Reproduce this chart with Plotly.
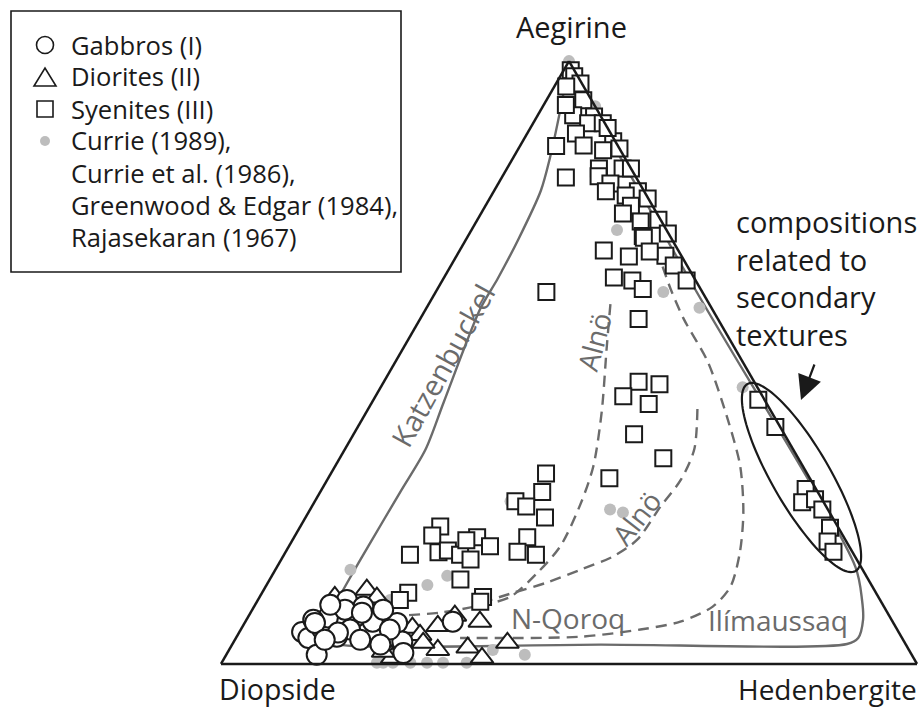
import numpy as np
import plotly.graph_objects as go

W, H = 919, 710
def X(px): return px / W
def Y(py): return 1 - py / H

# ---------------- data (Aegirine, Diopside, Hedenbergite in %) ----------------
gab_ae = [5.3, 4.3, 1.5, 5.7, 7.0, 10.6, 7.7, 7.3, 7.8, 9.5, 7.0, 5.7, 4.5, 6.8, 3.7, 1.8, 9.0, 9.0, 8.5, 6.8, 5.2, 7.0, 4.0, 5.7, 4.0, 3.2, 9.8]
gab_di = [85.7, 85.3, 85.5, 82.6, 79.8, 76.6, 80.8, 83.1, 76.8, 74.8, 74.7, 78.6, 81.1, 71.3, 72.1, 72.9, 72.2, 77.7, 75.5, 83.1, 80.6, 63.2, 83.1, 72.9, 78.0, 75.5, 79.4]
gab_hd = [9.0, 10.4, 13.0, 11.7, 13.2, 12.8, 11.5, 9.6, 15.4, 15.7, 18.3, 15.7, 14.4, 21.9, 24.2, 25.3, 18.8, 13.3, 16.0, 10.1, 14.2, 29.8, 12.9, 21.4, 18.0, 21.3, 10.8]

dio_ae = [11.1, 12.3, 11.0, 6.0, 4.8, 6.3, 8.0, 7.0, 3.5, 2.7, 1.0, 2.3, 2.3, 1.0, 3.5, 2.0]
dio_di = [78.1, 72.9, 72.1, 69.5, 69.0, 65.7, 62.4, 59.3, 57.1, 63.2, 62.0, 67.7, 75.0, 74.9, 69.2, 75.7]
dio_hd = [10.8, 14.8, 16.9, 24.5, 26.2, 28.0, 29.6, 33.7, 39.4, 34.1, 37.0, 30.0, 22.7, 24.1, 27.3, 22.3]

sye_ae = [98.5, 97.5, 96.3, 95.8, 93.5, 91.0, 90.8, 92.7, 89.7, 89.7, 88.0, 86.7, 86.0, 88.9, 85.2, 85.5, 85.9,
          82.2, 82.2, 82.2, 80.9, 79.7, 78.4, 77.7, 78.4, 80.7, 76.0, 74.7, 73.4, 73.7, 77.2, 71.0, 71.4, 68.6,
          67.6, 70.7, 67.7, 66.1, 68.4, 64.1, 63.6, 62.2, 63.6, 61.7, 57.2, 46.8, 46.4, 44.4, 43.1, 38.1, 34.1,
          30.8, 31.6, 28.5, 27.0, 26.1, 24.3, 21.0, 18.6, 18.1, 22.8, 21.3, 18.1, 18.5, 18.8, 18.1, 21.0, 19.5,
          17.3, 20.5, 14.0, 11.8, 10.6, 11.1, 10.3, 43.8, 39.3, 29.0, 26.8, 27.3, 25.6, 22.6, 20.3, 18.6]
sye_di = [0.5, 0.5, 0.2, 2.5, 1.2, 3.9, 1.0, 4.1, 2.4, 0.3, 5.0, 0.3, 4.9, 0.0, 2.5, 0.0, 8.9,
          1.2, 0.0, 4.6, 5.3, 4.2, 0.9, 3.0, 5.5, 10.1, 3.1, 4.9, 3.0, 0.3, 0.1, 3.9, 0.1, 10.7,
          7.6, 3.9, 2.3, 1.9, 4.2, 11.5, 9.1, 8.3, 1.3, 22.4, 11.4, 16.6, 13.8, 20.0, 17.0, 21.6, 19.4,
          28.8, 37.5, 39.6, 44.2, 43.1, 41.3, 45.5, 48.1, 45.7, 57.1, 59.0, 63.8, 59.5, 58.0, 56.6, 52.7, 51.6,
          55.5, 54.5, 58.6, 67.2, 69.0, 56.8, 57.6, 0.9, 0.7, 1.5, 3.1, 1.0, 0.8, 1.2, 2.7, 2.7]
sye_hd = [1.0, 2.0, 3.5, 1.7, 5.3, 5.1, 8.2, 3.2, 7.9, 10.0, 7.0, 13.0, 9.1, 11.1, 12.3, 14.5, 5.2,
          16.6, 17.8, 13.2, 13.8, 16.1, 20.7, 19.3, 16.1, 9.2, 20.9, 20.4, 23.6, 26.0, 22.7, 25.1, 28.5, 20.7,
          24.8, 25.4, 30.0, 32.0, 27.4, 24.4, 27.3, 29.5, 35.1, 15.9, 31.4, 36.6, 39.8, 35.6, 39.9, 40.3, 46.5,
          40.4, 30.9, 31.9, 28.8, 30.8, 34.4, 33.5, 33.3, 36.2, 20.1, 19.7, 18.1, 22.0, 23.2, 25.3, 26.3, 28.9,
          27.2, 25.0, 27.4, 21.0, 20.4, 32.1, 32.1, 55.3, 60.0, 69.5, 70.1, 71.7, 73.6, 76.2, 77.0, 78.7]

lit_ae = [100.0, 92.5, 72.0, 61.7, 59.1, 45.9, 25.6, 25.1, 27.0, 14.6, 13.1, 15.6, 1.5, 2.3, 0.2, 0.2, 0.2, 0.2, 0.2, 0.2, 0.2, 10.6, 4.0, 1.5]
lit_di = [0.0, 0.0, 7.1, 5.6, 1.7, 2.1, 31.3, 29.7, 44.9, 60.2, 63.8, 73.6, 55.6, 59.8, 77.5, 76.6, 75.2, 72.7, 70.3, 68.0, 64.6, 70.4, 69.4, 72.8]
lit_hd = [0.0, 7.5, 20.9, 32.7, 39.2, 52.0, 43.1, 45.2, 28.1, 25.2, 23.1, 10.8, 42.9, 37.9, 22.3, 23.2, 24.6, 27.1, 29.5, 31.8, 35.2, 19.0, 26.6, 25.7]

# field outlines
katz_ae = [99.2, 92.2, 83.9, 78.5, 70.5, 63.9, 58.9, 43.4, 35.6, 28.5, 19.5, 13.5, 9.3, 6.5, 4.0]
katz_di = [0.5, 5.1, 10.8, 14.8, 22.0, 28.3, 33.3, 46.3, 52.8, 60.0, 69.1, 75.1, 79.2, 81.8, 82.3]
katz_hd = [0.3, 2.7, 5.3, 6.7, 7.5, 7.8, 7.8, 10.3, 11.6, 11.5, 11.4, 11.4, 11.5, 11.7, 13.7]

ilim_ae = [4.0, 3.2, 3.2, 3.3, 4.3, 7.3, 10.6, 16.1, 61.7, 99.0]
ilim_di = [82.3, 81.3, 43.9, 8.4, 6.3, 4.1, 2.6, 0.8, 0.8, 0.5]
ilim_hd = [13.7, 15.5, 52.9, 88.3, 89.4, 88.6, 86.8, 83.1, 37.5, 0.5]

alno1_ae = [59.7, 52.2, 41.8, 32.8, 26.5, 19.5, 15.1, 11.1, 9.7, 8.5, 8.0]
alno1_di = [14.2, 18.5, 24.4, 30.1, 35.1, 41.5, 47.0, 52.9, 57.9, 64.3, 70.3]
alno1_hd = [26.1, 29.3, 33.8, 37.1, 38.4, 39.0, 37.9, 36.0, 32.4, 27.2, 21.7]

alno2_ae = [42.3, 35.6, 30.6, 26.1, 20.6, 17.8, 15.6, 13.5, 11.8, 10.6]
alno2_di = [10.4, 14.2, 18.6, 23.8, 29.9, 34.8, 40.6, 46.4, 52.1, 56.0]
alno2_hd = [47.3, 50.2, 50.8, 50.1, 49.5, 47.4, 43.8, 40.1, 36.1, 33.4]

nqor_ae = [65.9, 62.2, 57.2, 50.1, 40.6, 32.8, 25.1, 18.5, 12.8, 9.5, 7.0, 5.7, 4.5, 4.3]
nqor_di = [3.6, 4.3, 4.9, 5.0, 6.9, 9.0, 12.4, 16.2, 20.4, 24.6, 30.5, 36.9, 46.2, 63.5]
nqor_hd = [30.5, 33.5, 37.9, 44.9, 52.5, 58.2, 62.5, 65.3, 66.8, 65.9, 62.5, 57.4, 49.3, 32.2]

vertex_labels = ["Aegirine", "Diopside", "Hedenbergite"]
legend_lines = ["Gabbros (I)", "Diorites (II)", "Syenites (III)", "Currie (1989),",
                "Currie et al. (1986),", "Greenwood & Edgar (1984),", "Rajasekaran (1967)"]

# ---------------- styles ----------------
FONT = "Open Sans"
INK = "#1a1a1a"
GRAY_LINE = "#6b6b6b"
GRAY_DOT = "#bdbdbd"

fig = go.Figure()

def field(a, b, c, name, dash=None):
    fig.add_trace(go.Scatterternary(
        a=a, b=b, c=c, mode="lines", name=name, showlegend=False, cliponaxis=False,
        line=dict(color=GRAY_LINE, width=2.4, shape="spline", smoothing=0.8,
                  dash=dash if dash else "solid"),
        hoverinfo="skip"))

field(katz_ae, katz_di, katz_hd, "Katzenbuckel")
field(ilim_ae, ilim_di, ilim_hd, "Ilímaussaq")
field(alno1_ae, alno1_di, alno1_hd, "Alnö", dash="11px,7px")
field(alno2_ae, alno2_di, alno2_hd, "Alnö", dash="11px,7px")
field(nqor_ae, nqor_di, nqor_hd, "N-Qoroq", dash="11px,7px")

fig.add_trace(go.Scatterternary(
    a=lit_ae, b=lit_di, c=lit_hd, mode="markers", cliponaxis=False, showlegend=False,
    name="Currie (1989), Currie et al. (1986), Greenwood & Edgar (1984), Rajasekaran (1967)",
    marker=dict(symbol="circle", size=12, color=GRAY_DOT, line=dict(width=0))))
fig.add_trace(go.Scatterternary(
    a=sye_ae, b=sye_di, c=sye_hd, mode="markers", cliponaxis=False, showlegend=False,
    name="Syenites (III)",
    marker=dict(symbol="square", size=16, color="white", line=dict(color=INK, width=2))))
fig.add_trace(go.Scatterternary(
    a=dio_ae, b=dio_di, c=dio_hd, mode="markers", cliponaxis=False, showlegend=False,
    name="Diorites (II)",
    marker=dict(symbol="triangle-up", size=20, color="white", line=dict(color=INK, width=2))))
fig.add_trace(go.Scatterternary(
    a=gab_ae, b=gab_di, c=gab_hd, mode="markers", cliponaxis=False, showlegend=False,
    name="Gabbros (I)",
    marker=dict(symbol="circle", size=20, color="white", line=dict(color=INK, width=2))))

axis_style = dict(showgrid=False, showticklabels=False, ticks="", linecolor=INK,
                  linewidth=2.5, title=dict(text=""), min=0)

annotations = []
def txt(text, x, y, size=27, color=INK, angle=0, xanchor="center", yanchor="middle", align="center"):
    annotations.append(dict(text=text, x=X(x), y=Y(y), xref="paper", yref="paper",
                            showarrow=False, textangle=angle, xanchor=xanchor, yanchor=yanchor,
                            align=align, font=dict(family=FONT, size=size, color=color)))

# vertex labels
txt(vertex_labels[0], 571, 27, size=29)
txt(vertex_labels[1], 277, 689, size=28.5)
txt(vertex_labels[2], 827, 689, size=28)

# field labels
txt("Katzenbuckel", 442, 365, size=29, color=GRAY_LINE, angle=-61)
txt("Alnö", 594, 342, size=28, color=GRAY_LINE, angle=-75)
txt("Alnö", 636, 518, size=28, color=GRAY_LINE, angle=-52)
txt("N-Qoroq", 568, 618, size=28, color=GRAY_LINE)
txt("Ilímaussaq", 778, 620, size=28, color=GRAY_LINE)

# note
txt("compositions<br>related to<br>secondary<br>textures", 734, 278, size=29,
    xanchor="left", align="left")

# legend text
legend_y = [45, 77, 109, 141, 173, 205, 237]
for i, t in enumerate(legend_lines):
    txt(t, 69, legend_y[i], size=25.6, xanchor="left", align="left")

# arrow
annotations.append(dict(x=X(801), y=Y(400), xref="paper", yref="paper", ax=14, ay=-37,
                        showarrow=True, arrowhead=2, arrowsize=2.2, arrowwidth=2.2,
                        arrowcolor=INK, text=""))

shapes = []
# legend box
shapes.append(dict(type="rect", xref="paper", yref="paper", x0=X(11), x1=X(401), y0=Y(272), y1=Y(11),
                   line=dict(color=INK, width=1.6), fillcolor="rgba(0,0,0,0)"))
# legend symbols
shapes.append(dict(type="circle", xref="paper", yref="paper", x0=X(36.5), x1=X(53.5), y0=Y(53.5), y1=Y(36.5),
                   line=dict(color=INK, width=1.6)))
shapes.append(dict(type="path", xref="paper", yref="paper",
                   path=f"M {X(34)},{Y(86)} L {X(56)},{Y(86)} L {X(45)},{Y(68)} Z",
                   line=dict(color=INK, width=1.6)))
shapes.append(dict(type="rect", xref="paper", yref="paper", x0=X(37), x1=X(53), y0=Y(117), y1=Y(101),
                   line=dict(color=INK, width=1.6)))
shapes.append(dict(type="circle", xref="paper", yref="paper", x0=X(40), x1=X(50), y0=Y(146), y1=Y(136),
                   fillcolor=GRAY_DOT, line=dict(width=0)))
# ellipse around the secondary-texture compositions
cx, cy, ra, rb = 801.5, 477.5, 108, 29
ang = np.arctan2(185, 107)
t = np.linspace(0, 2 * np.pi, 120)
ex = cx + ra * np.cos(t) * np.cos(ang) - rb * np.sin(t) * np.sin(ang)
ey = cy + ra * np.cos(t) * np.sin(ang) + rb * np.sin(t) * np.cos(ang)
path = "M " + " L ".join(f"{X(a):.5f},{Y(b):.5f}" for a, b in zip(ex, ey)) + " Z"
shapes.append(dict(type="path", xref="paper", yref="paper", path=path, line=dict(color=INK, width=2.2)))

fig.update_layout(
    width=W, height=H, margin=dict(l=0, r=0, t=0, b=0),
    paper_bgcolor="white", plot_bgcolor="white", showlegend=False,
    ternary=dict(sum=100, bgcolor="white",
                 domain=dict(x=[221 / W, 917 / W], y=[46 / H, 649 / H]),
                 aaxis=axis_style, baxis=axis_style, caxis=axis_style),
    annotations=annotations, shapes=shapes,
)

fig.write_html("out.html", config={"displayModeBar": False},
               post_script="document.body.style.margin='0';")
